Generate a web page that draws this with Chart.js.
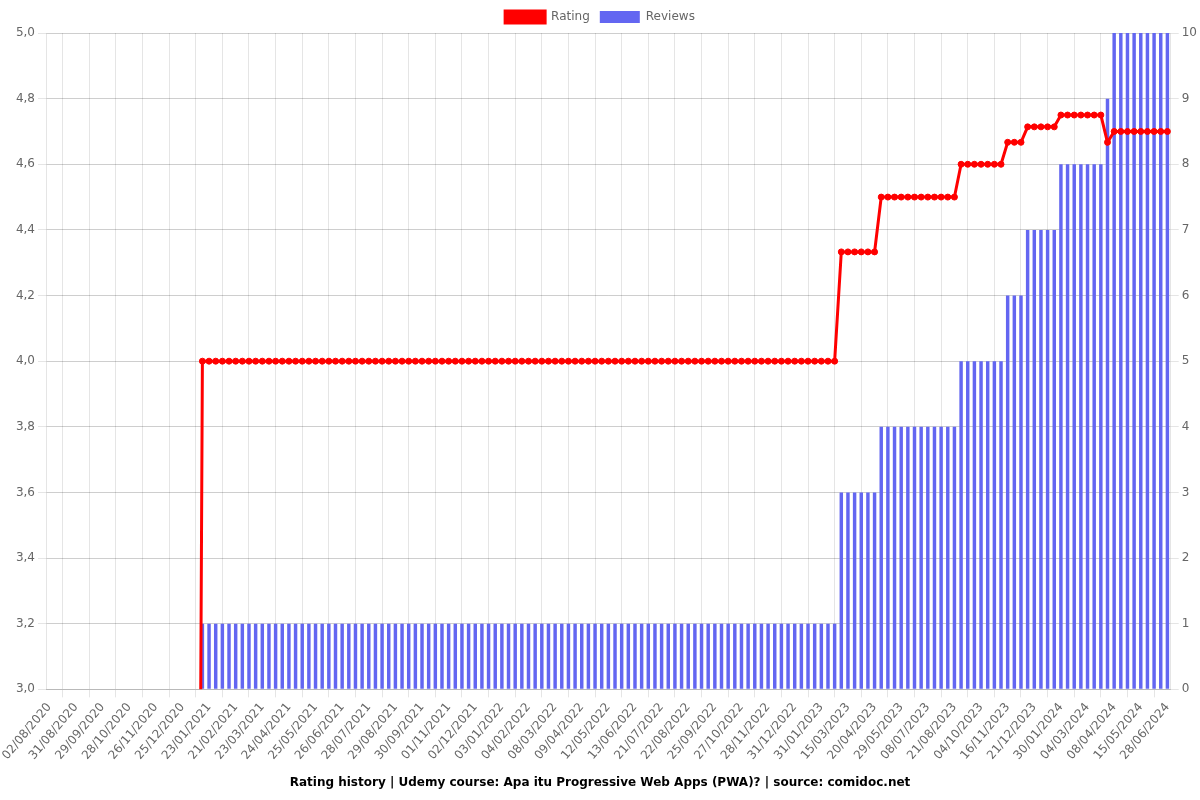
<!DOCTYPE html>
<html lang="en">
<head>
    <meta charset="UTF-8">
    <title>Rating history</title>
    <style>
        body {
            margin: 0;
            padding: 0;
            background: #fff;
        }
        .chart-container {
            width: 1200px;
            height: 800px;
        }
    </style>
</head>
<body>
    <div class="chart-container">
        <canvas id="ratingChart"></canvas>
    </div>

    <script src="https://cdn.jsdelivr.net/npm/chart.js"></script>
    <script>
        // Dates (one per snapshot, only every 4th is shown on the axis)
        const dates = [
            '02/08/2020', '09/08/2020', '16/08/2020', '23/08/2020',
            '31/08/2020', '07/09/2020', '14/09/2020', '21/09/2020',
            '29/09/2020', '06/10/2020', '13/10/2020', '20/10/2020',
            '28/10/2020', '04/11/2020', '11/11/2020', '18/11/2020',
            '26/11/2020', '03/12/2020', '10/12/2020', '17/12/2020',
            '25/12/2020', '01/01/2021', '08/01/2021', '15/01/2021',
            '23/01/2021', '30/01/2021', '06/02/2021', '13/02/2021',
            '21/02/2021', '28/02/2021', '07/03/2021', '15/03/2021',
            '23/03/2021', '31/03/2021', '08/04/2021', '16/04/2021',
            '24/04/2021', '02/05/2021', '10/05/2021', '17/05/2021',
            '25/05/2021', '02/06/2021', '10/06/2021', '18/06/2021',
            '26/06/2021', '04/07/2021', '12/07/2021', '20/07/2021',
            '28/07/2021', '05/08/2021', '13/08/2021', '21/08/2021',
            '29/08/2021', '06/09/2021', '14/09/2021', '22/09/2021',
            '30/09/2021', '08/10/2021', '16/10/2021', '24/10/2021',
            '01/11/2021', '09/11/2021', '17/11/2021', '24/11/2021',
            '02/12/2021', '10/12/2021', '18/12/2021', '26/12/2021',
            '03/01/2022', '11/01/2022', '19/01/2022', '27/01/2022',
            '04/02/2022', '12/02/2022', '20/02/2022', '28/02/2022',
            '08/03/2022', '16/03/2022', '24/03/2022', '01/04/2022',
            '09/04/2022', '17/04/2022', '25/04/2022', '04/05/2022',
            '12/05/2022', '20/05/2022', '28/05/2022', '05/06/2022',
            '13/06/2022', '22/06/2022', '02/07/2022', '11/07/2022',
            '21/07/2022', '29/07/2022', '06/08/2022', '14/08/2022',
            '22/08/2022', '30/08/2022', '08/09/2022', '16/09/2022',
            '25/09/2022', '03/10/2022', '11/10/2022', '19/10/2022',
            '27/10/2022', '04/11/2022', '12/11/2022', '20/11/2022',
            '28/11/2022', '06/12/2022', '14/12/2022', '22/12/2022',
            '31/12/2022', '08/01/2023', '16/01/2023', '23/01/2023',
            '31/01/2023', '11/02/2023', '22/02/2023', '04/03/2023',
            '15/03/2023', '24/03/2023', '02/04/2023', '11/04/2023',
            '20/04/2023', '30/04/2023', '10/05/2023', '19/05/2023',
            '29/05/2023', '08/06/2023', '18/06/2023', '28/06/2023',
            '08/07/2023', '19/07/2023', '30/07/2023', '10/08/2023',
            '21/08/2023', '01/09/2023', '12/09/2023', '23/09/2023',
            '04/10/2023', '15/10/2023', '26/10/2023', '05/11/2023',
            '16/11/2023', '25/11/2023', '04/12/2023', '12/12/2023',
            '21/12/2023', '31/12/2023', '10/01/2024', '20/01/2024',
            '30/01/2024', '08/02/2024', '17/02/2024', '25/02/2024',
            '04/03/2024', '13/03/2024', '22/03/2024', '30/03/2024',
            '08/04/2024', '17/04/2024', '26/04/2024', '06/05/2024',
            '15/05/2024', '26/05/2024', '06/06/2024', '17/06/2024',
            '28/06/2024'
        ];

        // Average rating at each date (0 = no reviews yet)
        const ratings = [
            0, 0, 0, 0, 0, 0, 0, 0, 0, 0,
            0, 0, 0, 0, 0, 0, 0, 0, 0, 0,
            0, 0, 0, 4, 4, 4, 4, 4, 4, 4,
            4, 4, 4, 4, 4, 4, 4, 4, 4, 4,
            4, 4, 4, 4, 4, 4, 4, 4, 4, 4,
            4, 4, 4, 4, 4, 4, 4, 4, 4, 4,
            4, 4, 4, 4, 4, 4, 4, 4, 4, 4,
            4, 4, 4, 4, 4, 4, 4, 4, 4, 4,
            4, 4, 4, 4, 4, 4, 4, 4, 4, 4,
            4, 4, 4, 4, 4, 4, 4, 4, 4, 4,
            4, 4, 4, 4, 4, 4, 4, 4, 4, 4,
            4, 4, 4, 4, 4, 4, 4, 4, 4, 4.333,
            4.333, 4.333, 4.333, 4.333, 4.333, 4.5, 4.5, 4.5, 4.5, 4.5,
            4.5, 4.5, 4.5, 4.5, 4.5, 4.5, 4.5, 4.6, 4.6, 4.6,
            4.6, 4.6, 4.6, 4.6, 4.667, 4.667, 4.667, 4.714, 4.714, 4.714,
            4.714, 4.714, 4.75, 4.75, 4.75, 4.75, 4.75, 4.75, 4.75, 4.667,
            4.7, 4.7, 4.7, 4.7, 4.7, 4.7, 4.7, 4.7, 4.7
        ];

        // Number of reviews at each date
        const reviews = [
            0, 0, 0, 0, 0, 0, 0, 0, 0, 0,
            0, 0, 0, 0, 0, 0, 0, 0, 0, 0,
            0, 0, 0, 1, 1, 1, 1, 1, 1, 1,
            1, 1, 1, 1, 1, 1, 1, 1, 1, 1,
            1, 1, 1, 1, 1, 1, 1, 1, 1, 1,
            1, 1, 1, 1, 1, 1, 1, 1, 1, 1,
            1, 1, 1, 1, 1, 1, 1, 1, 1, 1,
            1, 1, 1, 1, 1, 1, 1, 1, 1, 1,
            1, 1, 1, 1, 1, 1, 1, 1, 1, 1,
            1, 1, 1, 1, 1, 1, 1, 1, 1, 1,
            1, 1, 1, 1, 1, 1, 1, 1, 1, 1,
            1, 1, 1, 1, 1, 1, 1, 1, 1, 3,
            3, 3, 3, 3, 3, 4, 4, 4, 4, 4,
            4, 4, 4, 4, 4, 4, 4, 5, 5, 5,
            5, 5, 5, 5, 6, 6, 6, 7, 7, 7,
            7, 7, 8, 8, 8, 8, 8, 8, 8, 9,
            10, 10, 10, 10, 10, 10, 10, 10, 10
        ];

        Chart.defaults.font.family = 'DejaVu Sans';
        Chart.defaults.font.size = 12;
        Chart.defaults.color = '#666';

        const ctx = document.getElementById('ratingChart').getContext('2d');
        const chart = new Chart(ctx, {
            type: 'bar',
            data: {
                labels: dates,
                datasets: [{
                    type: 'line',
                    label: 'Rating',
                    data: ratings,
                    yAxisID: 'y',
                    borderColor: 'rgb(255, 0, 0)',
                    backgroundColor: 'rgb(255, 0, 0)',
                    borderWidth: 3,
                    pointRadius: 3,
                    pointBorderWidth: 1,
                    tension: 0,
                    fill: false
                }, {
                    label: 'Reviews',
                    data: reviews,
                    yAxisID: 'y1',
                    backgroundColor: 'rgb(99, 102, 241)',
                    borderWidth: 0,
                    categoryPercentage: 0.8,
                    barPercentage: 0.65
                }]
            },
            options: {
                responsive: true,
                maintainAspectRatio: false,
                animation: false,
                layout: {
                    padding: { top: 1 }
                },
                plugins: {
                    legend: {
                        position: 'top'
                    },
                    title: {
                        display: true,
                        position: 'bottom',
                        text: 'Rating history | Udemy course: Apa itu Progressive Web Apps (PWA)? | source: comidoc.net',
                        color: '#000',
                        font: { size: 12, weight: 'bold' }
                    },
                    tooltip: { enabled: false }
                },
                scales: {
                    y: {
                        position: 'left',
                        min: 3,
                        max: 5,
                        afterFit: scale => { scale.width = 46; },
                        ticks: {
                            stepSize: 0.2,
                            callback: v => v.toFixed(1).replace('.', ',')
                        }
                    },
                    y1: {
                        position: 'right',
                        min: 0,
                        max: 10,
                        ticks: { stepSize: 1 }
                    }
                }
            }
        });
    </script>
</body>
</html>
